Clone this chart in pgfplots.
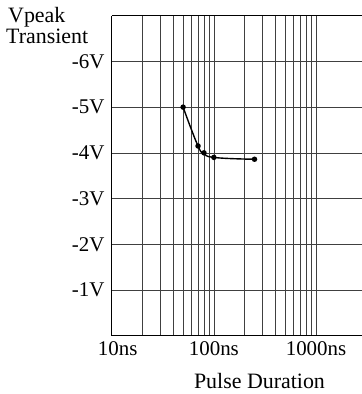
\documentclass[border=0pt]{standalone}
\usepackage{fontspec}
\setmainfont{Liberation Serif}
\usepackage{pgfplots}
\pgfplotsset{compat=1.18}

\begin{document}
\begin{tikzpicture}[x=1bp,y=1bp]
\path[use as bounding box] (0,0) rectangle (362,394);
\begin{axis}[
    at={(111.7bp,58.3bp)}, anchor=south west,
    scale only axis, width=250bp, height=320bp,
    xmode=log, xmin=10, xmax=2800,
    ymin=0, ymax=7,
    axis x line=box, axis y line=left,
    axis line style={black, line width=0.9pt, -},
    xtick={10,100,1000},
    xticklabels={\hspace*{12bp}10ns, 100ns, 1000ns},
    ytick={1,2,3,4,5,6},
    yticklabels={-1V,-2V,-3V,-4V,-5V,-6V},
    major tick length=0pt, minor tick length=0pt,
    xmajorgrids, xminorgrids, ymajorgrids,
    major grid style={black!75, line width=0.6pt},
    minor grid style={black!75, line width=0.6pt},
    ticklabel style={font=\fontsize{21}{24}\selectfont},
    /pgf/number format/assume math mode=true,
    yticklabel style={anchor=east, xshift=-5bp, inner sep=2bp},
    xticklabel style={anchor=north, yshift=-2bp},
    clip=false,
]
\addplot[black, line width=1.4pt, smooth, tension=0.8, mark=*, mark size=2pt]
  coordinates {(50,5.0) (70,4.15) (80,4.0) (100,3.9) (250,3.86)};
\end{axis}
\node[anchor=base west, inner sep=0, font=\fontsize{22}{24}\selectfont] at (8,372) {Vpeak};
\node[anchor=base west, inner sep=0, font=\fontsize{22}{24}\selectfont] at (6,351) {Transient};
\node[anchor=base, inner sep=0, font=\fontsize{22}{24}\selectfont] at (259.5,6) {Pulse Duration};
\end{tikzpicture}
\end{document}
